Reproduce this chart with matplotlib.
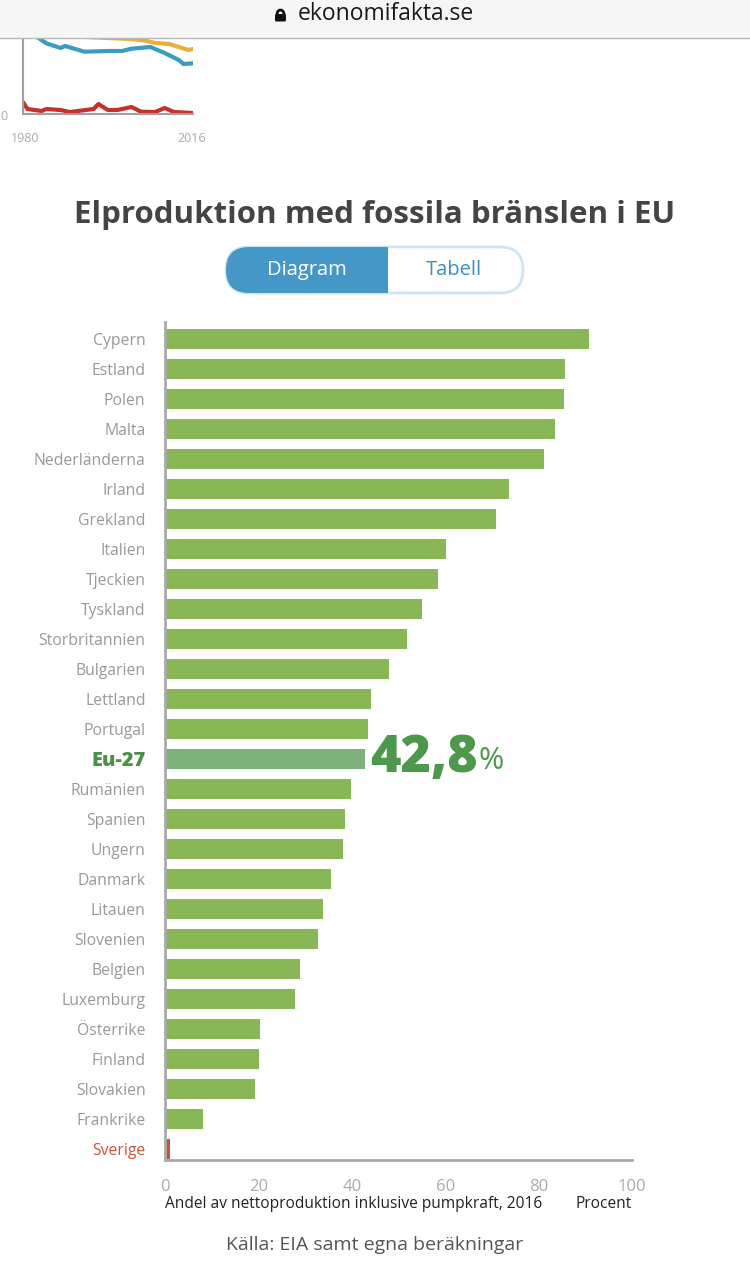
import numpy as np
import matplotlib
matplotlib.use("Agg")
import matplotlib.pyplot as plt
from matplotlib.patches import FancyBboxPatch, Rectangle, Arc

plt.rcParams['font.family'] = ['Open Sans', 'DejaVu Sans']

# --- main chart data (share of net production, %, 2016) ---
countries = ["Cypern", "Estland", "Polen", "Malta", "Nederländerna", "Irland",
             "Grekland", "Italien", "Tjeckien", "Tyskland", "Storbritannien",
             "Bulgarien", "Lettland", "Portugal", "Eu-27", "Rumänien", "Spanien",
             "Ungern", "Danmark", "Litauen", "Slovenien", "Belgien", "Luxemburg",
             "Österrike", "Finland", "Slovakien", "Frankrike", "Sverige"]
shares = [90.8, 85.7, 85.4, 83.5, 81.2, 73.6, 70.9, 60.1, 58.4, 55.1, 51.9,
          47.9, 44.1, 43.4, 42.8, 39.8, 38.6, 38.1, 35.6, 33.9, 32.7, 29.0,
          27.9, 20.4, 20.1, 19.3, 8.2, 1.0]
x_ticks = [0, 20, 40, 60, 80, 100]

# --- partial chart above (only lower part visible) ---
red_years = [1980, 1981, 1984, 1985, 1988, 1990, 1995, 1996, 1998, 2000, 2003,
             2005, 2008, 2010, 2012, 2016]
red_vals = [12.6, 5.3, 3.3, 5.3, 4.3, 2.3, 5.3, 10.3, 4.3, 4.3, 7.3, 2.6, 2.3,
            6.3, 2.3, 1.3]
blue_years = [1982, 1983, 1985, 1988, 1989, 1993, 1998, 2001, 2003, 2007, 2010,
              2013, 2014, 2016]
blue_vals = [82.0, 77.3, 71.0, 66.3, 68.3, 62.6, 63.3, 63.3, 65.6, 67.3, 61.3,
             54.3, 50.3, 51.0]
yellow_years = [1991, 1992, 1998, 2003, 2006, 2008, 2011, 2013, 2015, 2016]
yellow_vals = [80.0, 77.6, 76.3, 75.3, 73.6, 71.3, 70.3, 67.3, 64.3, 65.3]

W, H = 750, 1267
fig = plt.figure(figsize=(W / 100, H / 100), dpi=100)
fig.patch.set_facecolor("white")

def px_axes(left, top, right, bottom):
    return fig.add_axes([left / W, 1 - bottom / H, (right - left) / W, (bottom - top) / H])

# top partial line chart
tax = px_axes(22.7, 0, 193, 114.3)
tax.plot(yellow_years, yellow_vals, color="#e9ae3c", lw=3, solid_capstyle="round")
tax.plot(blue_years, blue_vals, color="#3a9cc2", lw=3, solid_capstyle="round")
tax.plot(red_years, red_vals, color="#c7302c", lw=3, solid_capstyle="round")
tax.set_xlim(1980, 2016)
tax.set_ylim(0, 114.3)
for s in ["top", "right"]:
    tax.spines[s].set_visible(False)
for s in ["left", "bottom"]:
    tax.spines[s].set_color("#a0a0a0")
    tax.spines[s].set_linewidth(1.5)
tax.set_xticks([])
tax.set_yticks([])

# main bar chart
ax = px_axes(165, 322, 632, 1160)
ypos = np.arange(len(countries))
colors = []
for c in countries:
    if c == "Eu-27":
        colors.append("#7db27c")
    elif c == "Sverige":
        colors.append("#d1503a")
    else:
        colors.append("#88b755")
ax.barh(ypos, shares, height=0.67, color=colors)
ax.set_xlim(0, 100)
ax.set_ylim(27.37, -0.567)
ax.set_yticks(ypos)
ax.set_yticklabels(countries, fontsize=11.3)
ax.set_xticks(x_ticks)
ax.set_xticklabels([str(t) for t in x_ticks], fontsize=12, color="#aaaaaa")
ax.tick_params(axis="y", length=0, pad=14)
ax.tick_params(axis="x", length=0, pad=14)
for lab in ax.get_yticklabels():
    t = lab.get_text()
    if t == "Eu-27":
        lab.set_color("#4a9048")
        lab.set_fontweight("heavy")
        lab.set_fontsize(14.5)
    elif t == "Sverige":
        lab.set_color("#d1503a")
    else:
        lab.set_color("#999999")
for s in ["top", "right"]:
    ax.spines[s].set_visible(False)
for s in ["left", "bottom"]:
    ax.spines[s].set_color("#aaaaaa")
    ax.spines[s].set_linewidth(2)

eu_i = countries.index("Eu-27")
big = ax.text(shares[eu_i] + 1.2, eu_i, "42,8", fontsize=37.5, fontweight="heavy",
              color="#4e984d", va="center", ha="left")
ax.annotate("%", xy=(1, 0.17), xycoords=big, fontsize=22, color="#4e984d",
            va="bottom", ha="left")

# overlay in pixel coordinates for page furniture
ov = fig.add_axes([0, 0, 1, 1], zorder=10)
ov.set_xlim(0, W)
ov.set_ylim(H, 0)
ov.axis("off")
ov.patch.set_visible(False)

# browser bar
ov.add_patch(Rectangle((0, 0), W, 37.5, facecolor="#f6f6f6", edgecolor="none", zorder=5))
ov.plot([0, W], [37.7, 37.7], color="#b8b8b8", lw=1, zorder=6)
ov.add_patch(FancyBboxPatch((275, 14), 11, 7.5, boxstyle="round,pad=0,rounding_size=1.5",
                            facecolor="#111111", edgecolor="none", zorder=7))
ov.add_patch(Arc((280.5, 14.5), 7, 9, theta1=180, theta2=360, color="#111111", lw=2, zorder=7))
ov.text(386, 14, "ekonomifakta.se", fontsize=16.5, color="#1a1a1a", ha="center", va="center", zorder=7)

# top chart tick labels
ov.text(25, 138, "1980", fontsize=9, color="#aaaaaa", ha="center", va="center")
ov.text(192, 138, "2016", fontsize=9, color="#aaaaaa", ha="center", va="center")
ov.text(0, 116, "0", fontsize=9, color="#aaaaaa", ha="left", va="center")

# title
ov.text(375, 215, "Elproduktion med fossila bränslen i EU", fontsize=22.5,
        fontweight="bold", color="#444444", ha="center", va="center")

# toggle button
pill_x0, pill_x1, pill_y0, pill_y1 = 226, 523, 247, 293
r = (pill_y1 - pill_y0) / 2
fill = FancyBboxPatch((pill_x0, pill_y0), pill_x1 - pill_x0, pill_y1 - pill_y0,
                      boxstyle=f"round,pad=0,rounding_size={r}", facecolor="#4597c8",
                      edgecolor="none", zorder=2)
ov.add_patch(fill)
clip = Rectangle((pill_x0 - 2, pill_y0 - 2), 388 - pill_x0 + 2, pill_y1 - pill_y0 + 4,
                 transform=ov.transData)
fill.set_clip_path(clip)
ov.add_patch(FancyBboxPatch((pill_x0, pill_y0), pill_x1 - pill_x0, pill_y1 - pill_y0,
                            boxstyle=f"round,pad=0,rounding_size={r}", facecolor="none",
                            edgecolor="#cfe5f1", lw=2, zorder=1))
ov.text(307, 270, "Diagram", fontsize=14.5, color="white", ha="center", va="center", zorder=3)
ov.text(454, 270, "Tabell", fontsize=14.5, color="#3a8fc4", ha="center", va="center", zorder=3)

# axis captions and source
ov.text(165, 1204, "Andel av nettoproduktion inklusive pumpkraft, 2016", fontsize=11.2,
        color="#222222", ha="left", va="center")
ov.text(632, 1204, "Procent", fontsize=11.2, color="#222222", ha="right", va="center")
ov.text(375, 1245, "Källa: EIA samt egna beräkningar", fontsize=14, color="#555555",
        ha="center", va="center")

fig.savefig("out.png", dpi=100)
